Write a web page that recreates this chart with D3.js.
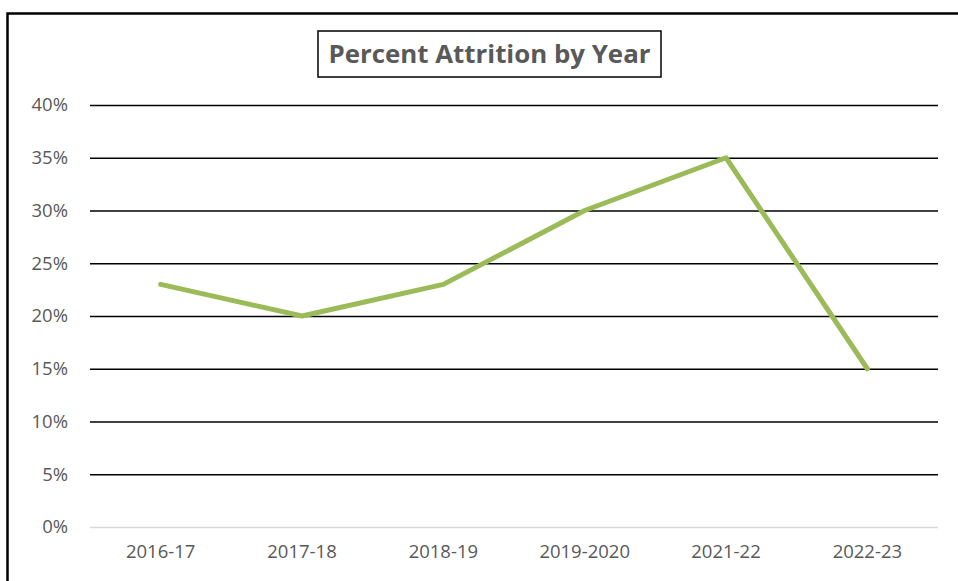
<!DOCTYPE html>
<html>
<head>
<meta charset="utf-8">
<script src="https://cdn.jsdelivr.net/npm/d3@7"></script>
<style>
  body { margin: 0; background: #fff; }
  svg { display: block; }
  svg text { font-family: "Open Sans", "Liberation Sans", sans-serif; }
</style>
</head>
<body>
<svg id="chart" width="958" height="581"></svg>
<script>
// data
var years = ["2016-17", "2017-18", "2018-19", "2019-2020", "2021-22", "2022-23"];
var attrition = [23, 20, 23, 30, 35, 15];
var yTicks = [0, 5, 10, 15, 20, 25, 30, 35, 40];

var width = 958, height = 581;
var margin = {top: 105, right: 20, bottom: 54, left: 90};

var svg = d3.select("#chart");

// outer frame (only top and left show in the picture)
svg.append("path")
  .attr("d", "M7.5," + height + " V13.5 H" + width)
  .attr("fill", "none")
  .attr("stroke", "#000")
  .attr("stroke-width", 2.5);

var x = d3.scaleBand()
  .domain(years)
  .range([margin.left, width - margin.right]);

var y = d3.scaleLinear()
  .domain([0, 40])
  .range([height - margin.bottom, margin.top]);

// gridlines
var grid = svg.append("g")
  .attr("transform", "translate(" + margin.left + ",0)")
  .call(d3.axisLeft(y).tickValues(yTicks)
    .tickSize(-(width - margin.left - margin.right))
    .tickFormat(function(d) { return d + "%"; }));
grid.select(".domain").remove();
grid.selectAll(".tick line")
  .attr("stroke", function(d) { return d === 0 ? "#d9d9d9" : "#000"; })
  .attr("stroke-width", 1.6);
grid.selectAll(".tick text")
  .attr("x", -22)
  .attr("fill", "#595959")
  .style("font-size", "18.5px");

// category labels
var xa = svg.append("g")
  .attr("transform", "translate(0," + (height - margin.bottom) + ")")
  .call(d3.axisBottom(x).tickSize(0).tickPadding(18));
xa.select(".domain").remove();
xa.selectAll(".tick text")
  .attr("fill", "#595959")
  .style("font-size", "18.5px");

// the line
var line = d3.line()
  .x(function(d, i) { return x(years[i]) + x.bandwidth() / 2; })
  .y(function(d) { return y(d); });

svg.append("path")
  .datum(attrition)
  .attr("d", line)
  .attr("fill", "none")
  .attr("stroke", "#9bbb59")
  .attr("stroke-width", 5)
  .attr("stroke-linejoin", "round")
  .attr("stroke-linecap", "round");

// title in a box
svg.append("rect")
  .attr("x", 318).attr("y", 31)
  .attr("width", 343).attr("height", 46)
  .attr("fill", "#fff")
  .attr("stroke", "#000")
  .attr("stroke-width", 1.5);

svg.append("text")
  .attr("x", 489.5).attr("y", 63)
  .attr("text-anchor", "middle")
  .attr("fill", "#595959")
  .style("font-size", "25px")
  .style("font-weight", "bold")
  .attr("textLength", 322)
  .attr("lengthAdjust", "spacingAndGlyphs")
  .text("Percent Attrition by Year");
</script>
</body>
</html>
